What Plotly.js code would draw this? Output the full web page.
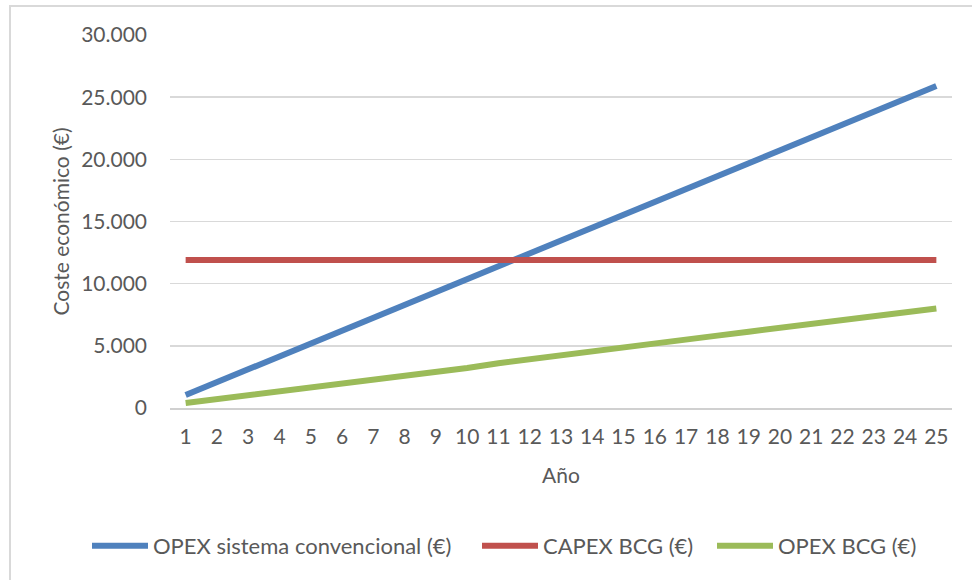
<!DOCTYPE html>
<html>
<head>
<meta charset="utf-8">
<script src="https://cdn.plot.ly/plotly-3.0.1.min.js"></script>
<style>
  html, body { margin: 0; padding: 0; background: #fff; }
  #wrap { position: relative; width: 972px; height: 580px; }
  #chart { width: 972px; height: 580px; }
  #frame { position: absolute; left: 9px; top: 5px; width: 963px; height: 575px;
           border-top: 2px solid #d9d9d9; border-left: 2px solid #d9d9d9; pointer-events: none; box-sizing: border-box; }
</style>
</head>
<body>
<div id="wrap">
  <div id="chart"></div>
  <div id="frame"></div>
</div>
<script>
const years = [1,2,3,4,5,6,7,8,9,10,11,12,13,14,15,16,17,18,19,20,21,22,23,24,25];
const opexConvencional = [1040,2080,3110,4150,5180,6220,7250,8290,9320,10360,11390,12430,13460,14500,15530,16570,17600,18640,19670,20710,21740,22780,23810,24850,25900];
const capexBCG = [11900,11900,11900,11900,11900,11900,11900,11900,11900,11900,11900,11900,11900,11900,11900,11900,11900,11900,11900,11900,11900,11900,11900,11900,11900];
const opexBCG = [400,700,1010,1320,1630,1950,2260,2580,2900,3220,3600,3900,4220,4540,4860,5180,5500,5820,6140,6460,6800,7150,7430,7720,8010];
const seriesNames = ['OPEX sistema convencional (€)', 'CAPEX BCG (€)', 'OPEX BCG (€)'];
const yTicks = [0,5000,10000,15000,20000,25000,30000];

const colors = ['#4f81bd', '#c0504d', '#9bbb59'];
const legendIds = ['legend', 'legend2', 'legend3'];
const legendX = [87, 477, 712];
const dataSets = [opexConvencional, capexBCG, opexBCG];
const traces = dataSets.map((d, i) => ({
  x: years, y: d, name: seriesNames[i], type: 'scatter', mode: 'lines',
  line: { color: colors[i], width: 6, shape: 'linear' },
  legend: legendIds[i]
}));

const font = 'Lato, "Open Sans", sans-serif';
const layout = {
  width: 972, height: 580,
  margin: { l: 170, r: 20, t: 35, b: 172 },
  paper_bgcolor: '#fff', plot_bgcolor: '#fff',
  separators: ',.',
  font: { family: font, color: '#595959', size: 20 },
  showlegend: true,
  xaxis: {
    range: [0.5, 25.5], tickmode: 'array', tickvals: years, ticktext: years.map(String),
    showgrid: false, zeroline: false, showline: true, linecolor: '#d0d0d0', linewidth: 2,
    ticks: '', ticklabelstandoff: 9, tickfont: { size: 21, color: '#595959' },
    title: { text: 'Año', font: { size: 21, color: '#595959' }, standoff: 21 }
  },
  yaxis: {
    range: [0, 30000], tickmode: 'array', tickvals: yTicks, tickformat: ',',
    showgrid: true, gridcolor: '#d9d9d9', gridwidth: 1.5, zeroline: false, showline: false,
    ticks: '', ticklabelstandoff: 22, tickfont: { size: 21, color: '#595959' },
    title: { text: 'Coste económico (€)', font: { size: 21, color: '#595959' }, standoff: 5 }
  }
};
legendIds.forEach((id, i) => {
  layout[id] = { orientation: 'h', x: legendX[i] / 972, xanchor: 'left', xref: 'container',
                 y: 34 / 580, yref: 'container', yanchor: 'middle',
                 font: { size: 22, color: '#595959' }, itemwidth: 56, bgcolor: 'rgba(0,0,0,0)' };
});

Plotly.newPlot('chart', traces, layout, { displayModeBar: false, staticPlot: true });
</script>
</body>
</html>
